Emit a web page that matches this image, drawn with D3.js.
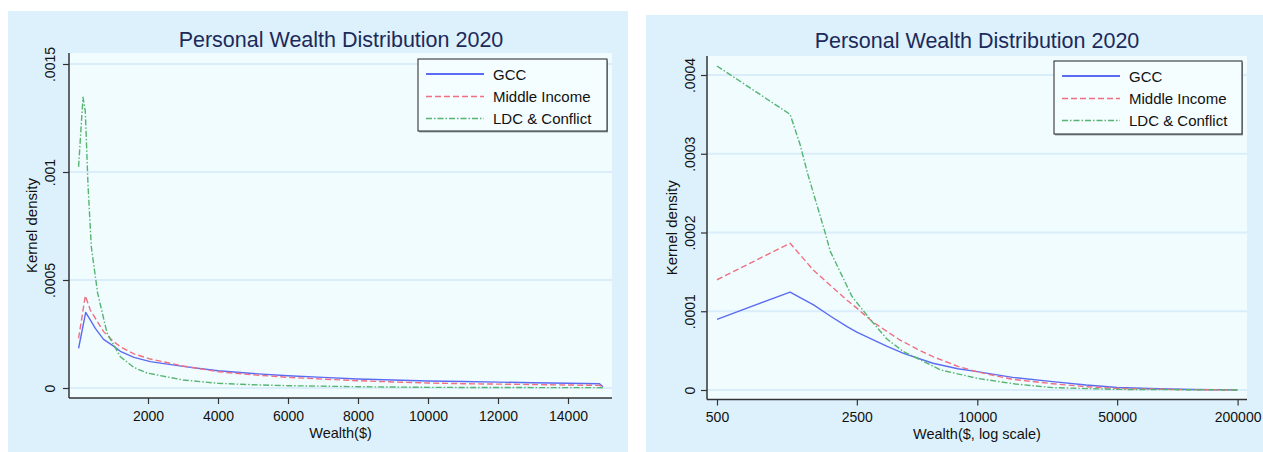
<!DOCTYPE html>
<html>
<head>
<meta charset="utf-8">
<script src="https://cdn.jsdelivr.net/npm/d3@7"></script>
<style>
  body { margin: 0; background: #ffffff; }
  svg { display: block; }
  text { font-family: "Liberation Sans", Arial, Helvetica, sans-serif; }
</style>
</head>
<body>
<svg id="chart" width="1263" height="452"></svg>
<script>
// ---- Shared labels and styles ----
const chartTitle = "Personal Wealth Distribution 2020";
const seriesNames = ["GCC", "Middle Income", "LDC & Conflict"];
const seriesColors = ["#5b6cf3", "#f0707f", "#55b56f"];
const seriesDash = [null, "6,3", "6,2,1.5,2"];

// ---- Panel A: kernel density on a linear wealth axis ([wealth $, density]) ----
const gccLinear = [
  [17, 0.000184], [220, 0.000350], [351, 0.000315], [494, 0.000276], [731, 0.000225],
  [1017, 0.000194], [1209, 0.000170], [1600, 0.000142], [2066, 0.000122], [3000, 0.000100],
  [4000, 0.000080], [5000, 0.000067], [6000, 0.000057], [7000, 0.000049], [8000, 0.0000417],
  [9000, 0.000037], [10000, 0.0000324], [11000, 0.000030], [12000, 0.000027], [13000, 0.0000245],
  [14000, 0.000022], [14900, 0.000020], [15000, 0.000006]
];
const midLinear = [
  [17, 0.000230], [209, 0.000427], [351, 0.000361], [494, 0.000323], [731, 0.000261],
  [1017, 0.000215], [1209, 0.000191], [1600, 0.000158], [2066, 0.000134], [3000, 0.000102],
  [4000, 0.0000755], [5000, 0.000061], [6000, 0.0000495], [7000, 0.000041], [8000, 0.0000338],
  [9000, 0.000028], [10000, 0.0000231], [11000, 0.000020], [12000, 0.000018], [13000, 0.000016],
  [14000, 0.000014], [14900, 0.000012], [15000, 0.000004]
];
const ldcLinear = [
  [17, 0.001024], [143, 0.001346], [209, 0.001280], [286, 0.000940], [380, 0.000654],
  [560, 0.000440], [829, 0.000255], [1209, 0.000145], [1600, 0.000095], [1971, 0.0000694],
  [3000, 0.000037], [4000, 0.0000218], [5000, 0.000015], [6000, 0.0000107], [8000, 0.000006],
  [10000, 0.000003], [12000, 0.0000022], [15000, 0.0000015]
];
const linearXTicks = [2000, 4000, 6000, 8000, 10000, 12000, 14000];
const linearYTicks = [0, 0.0005, 0.001, 0.0015];
const linearYLabels = ["0", ".0005", ".001", ".0015"];

// ---- Panel B: kernel density on a log wealth axis ([wealth $, density]) ----
const gccLog = [
  [500, 0.0000897], [1160, 0.0001244], [1519, 0.000108], [1840, 0.000094], [2233, 0.0000804],
  [2500, 0.0000735], [2982, 0.0000644], [3545, 0.0000555], [4280, 0.0000466], [6000, 0.000034],
  [8000, 0.0000270], [10000, 0.0000233], [15000, 0.0000160], [23800, 0.0000106], [35000, 0.0000063],
  [50000, 0.0000032], [80000, 0.0000016], [120000, 0.0000007], [200000, 0.0000002]
];
const midLog = [
  [500, 0.000140], [1160, 0.0001863], [1519, 0.000152], [1840, 0.000133], [2233, 0.000114],
  [2500, 0.000104], [2982, 0.0000870], [4052, 0.0000644], [5000, 0.000052], [6000, 0.0000423],
  [8000, 0.000030], [10000, 0.000023], [15000, 0.0000135], [23800, 0.0000080], [35000, 0.0000042],
  [50000, 0.0000020], [100000, 0.0000006], [200000, 0.0000001]
];
const ldcLog = [
  [500, 0.0004114], [1160, 0.000350], [1303, 0.000311], [1418, 0.000275], [1739, 0.000199],
  [1842, 0.000176], [2367, 0.0001185], [2982, 0.0000867], [3545, 0.0000644], [4280, 0.0000487],
  [6570, 0.0000254], [10000, 0.0000148], [15500, 0.0000076], [23800, 0.0000030], [50000, 0.0000008],
  [200000, 0.0000000]
];
const logXTicks = [500, 2500, 10000, 50000, 200000];
const logYTicks = [0, 0.0001, 0.0002, 0.0003, 0.0004];
const logYLabels = ["0", ".0001", ".0002", ".0003", ".0004"];

const svg = d3.select("#chart");

function drawPanel(p) {
  const g = svg.append("g");

  // outer panel background
  g.append("rect")
    .attr("x", p.bg.x).attr("y", p.bg.y)
    .attr("width", p.bg.w).attr("height", p.bg.h)
    .attr("fill", "#ddf1fc");

  // plot region
  g.append("rect")
    .attr("x", p.plot.x).attr("y", p.plot.y)
    .attr("width", p.plot.w).attr("height", p.plot.h)
    .attr("fill", "#f1fcff");

  // title
  g.append("text")
    .attr("x", p.titleX).attr("y", p.titleY)
    .attr("text-anchor", "middle")
    .attr("font-size", 21.5)
    .attr("fill", "#1b2a5a")
    .text(chartTitle);

  const plot = g.append("g").attr("transform", `translate(${p.plot.x},${p.plot.y})`);
  const x = p.xScale;
  const y = p.yScale;

  // horizontal gridlines
  plot.selectAll("line.grid").data(p.yTicks).join("line")
    .attr("class", "grid")
    .attr("x1", 0).attr("x2", p.plot.w)
    .attr("y1", d => y(d)).attr("y2", d => y(d))
    .attr("stroke", "#d9eefa").attr("stroke-width", 2);

  // density curves
  const line = d3.line().x(d => x(d[0])).y(d => y(d[1]));
  p.series.forEach((s, i) => {
    plot.append("path")
      .datum(s)
      .attr("d", line)
      .attr("fill", "none")
      .attr("stroke", seriesColors[i])
      .attr("stroke-width", 1.4)
      .attr("stroke-dasharray", seriesDash[i])
      .attr("stroke-linejoin", "round");
  });

  // y axis
  const yAxis = d3.axisLeft(y)
    .tickValues(p.yTicks)
    .tickFormat((d, i) => p.yLabels[i])
    .tickSize(6).tickSizeOuter(0);
  const ya = plot.append("g").call(yAxis);
  ya.select(".domain").attr("stroke", "#333").attr("stroke-width", 1.5)
    .attr("d", `M0,0V${p.plot.h}`);
  ya.selectAll(".tick line").attr("stroke", "#333").attr("stroke-width", 1.2);
  ya.selectAll(".tick text")
    .attr("font-size", 14).attr("fill", "#111")
    .attr("text-anchor", "middle")
    .attr("x", 0).attr("dy", 0)
    .attr("transform", `translate(${-p.yLabelOffset},0) rotate(-90)`);

  // x axis
  const xAxis = d3.axisBottom(x)
    .tickValues(p.xTicks)
    .tickFormat(d3.format("d"))
    .tickSize(6).tickSizeOuter(0);
  const xa = plot.append("g").attr("transform", `translate(0,${p.plot.h})`).call(xAxis);
  xa.select(".domain").attr("stroke", "#333").attr("stroke-width", 1.5)
    .attr("d", `M0,0H${p.plot.w}`);
  xa.selectAll(".tick line").attr("stroke", "#333").attr("stroke-width", 1.2);
  xa.selectAll(".tick text")
    .attr("font-size", 14).attr("fill", "#111")
    .attr("y", 0).attr("dy", 0)
    .attr("transform", `translate(0,${p.xLabelBaseline})`);

  // axis titles
  g.append("text")
    .attr("transform", `translate(${p.yTitleX},${p.plot.y + p.plot.h / 2}) rotate(-90)`)
    .attr("text-anchor", "middle")
    .attr("font-size", 15).attr("fill", "#111")
    .text("Kernel density");
  g.append("text")
    .attr("x", p.plot.x + p.plot.w / 2).attr("y", p.xTitleY)
    .attr("text-anchor", "middle")
    .attr("font-size", 14.5).attr("fill", "#111")
    .text(p.xTitle);

  // legend
  const lg = g.append("g").attr("transform", `translate(${p.legend.x},${p.legend.y})`);
  lg.append("rect")
    .attr("x", 1).attr("y", 1.5)
    .attr("width", p.legend.w).attr("height", p.legend.h)
    .attr("fill", "#9aa6ad");
  lg.append("rect")
    .attr("width", p.legend.w).attr("height", p.legend.h)
    .attr("fill", "#f4fdff").attr("stroke", "#222").attr("stroke-width", 1);
  const rowY = [15, 37.5, 59.5];
  seriesNames.forEach((name, i) => {
    lg.append("line")
      .attr("x1", 8).attr("x2", 66)
      .attr("y1", rowY[i]).attr("y2", rowY[i])
      .attr("stroke", seriesColors[i])
      .attr("stroke-width", i === 0 ? 2 : 1.4)
      .attr("stroke-dasharray", seriesDash[i]);
    lg.append("text")
      .attr("x", 75).attr("y", rowY[i] + 5.5)
      .attr("font-size", 15).attr("fill", "#111")
      .text(name);
  });
}

// Panel A geometry
const plotA = { x: 69, y: 53, w: 543, h: 345 };
drawPanel({
  bg: { x: 8, y: 11, w: 620, h: 441 },
  plot: plotA,
  titleX: 341, titleY: 46.5,
  xScale: d3.scaleLinear().domain([0, 15000]).range([9, 534]),
  yScale: d3.scaleLinear().domain([0, 0.0015]).range([335, 11]),
  series: [gccLinear, midLinear, ldcLinear],
  xTicks: linearXTicks,
  yTicks: linearYTicks, yLabels: linearYLabels,
  yLabelOffset: 14,
  xLabelBaseline: 22.5,
  yTitleX: 36.5,
  xTitle: "Wealth($)", xTitleY: 437.5,
  legend: { x: 418, y: 59, w: 189, h: 72 }
});

// Panel B geometry
const plotB = { x: 707, y: 56, w: 540, h: 343.5 };
drawPanel({
  bg: { x: 646, y: 15, w: 617, h: 437 },
  plot: plotB,
  titleX: 977, titleY: 48.3,
  xScale: d3.scaleLog().domain([500, 200000]).range([10, 530.6]),
  yScale: d3.scaleLinear().domain([0, 0.0004]).range([334, 19]),
  series: [gccLog, midLog, ldcLog],
  xTicks: logXTicks,
  yTicks: logYTicks, yLabels: logYLabels,
  yLabelOffset: 12,
  xLabelBaseline: 22.5,
  yTitleX: 676.5,
  xTitle: "Wealth($, log scale)", xTitleY: 438.5,
  legend: { x: 1054, y: 61, w: 188, h: 73 }
});
</script>
</body>
</html>
